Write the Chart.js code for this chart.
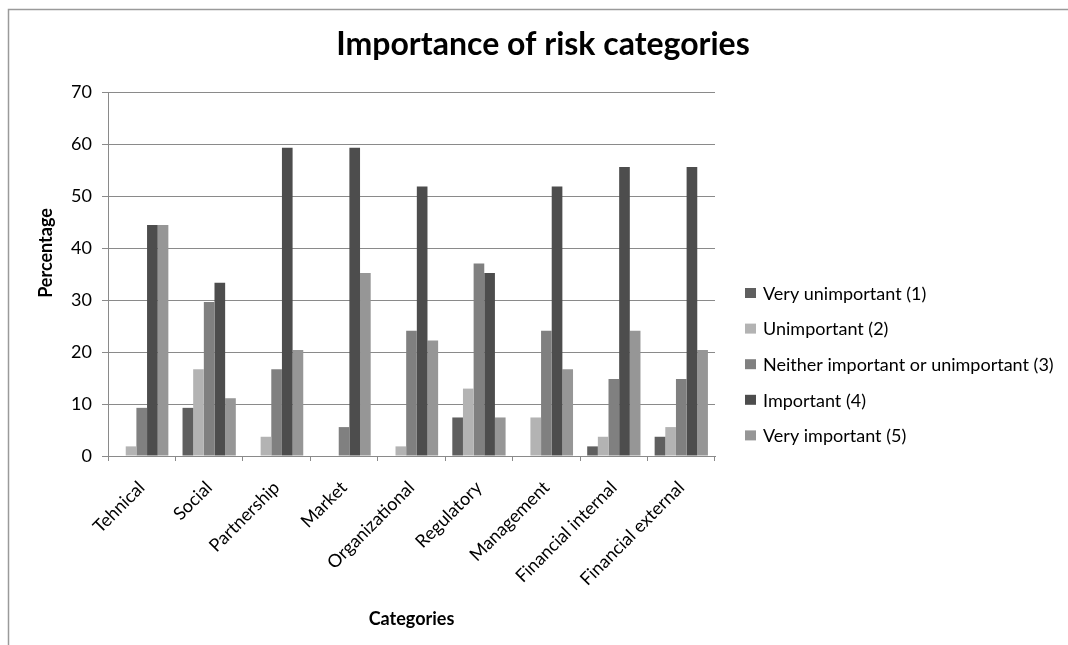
<!DOCTYPE html>
<html>
<head>
<meta charset="utf-8">
<script src="https://cdn.jsdelivr.net/npm/chart.js@4.4.1/dist/chart.umd.min.js"></script>
<style>
  html, body { margin: 0; padding: 0; background: #ffffff; }
  #wrap { width: 1068px; height: 645px; position: relative; }
</style>
</head>
<body>
<div id="wrap"><canvas id="chart" width="1068" height="645"></canvas></div>
<script>
// Survey answers, share of respondents (%) per risk category
const categories = ['Tehnical', 'Social', 'Partnership', 'Market', 'Organizational',
                    'Regulatory', 'Management', 'Financial internal', 'Financial external'];
const veryUnimportant = [0, 9.26, 0, 0, 0, 7.41, 0, 1.85, 3.70];
const unimportant     = [1.85, 16.67, 3.70, 0, 1.85, 12.96, 7.41, 3.70, 5.56];
const neither         = [9.26, 29.63, 16.67, 5.56, 24.07, 37.04, 24.07, 14.81, 14.81];
const important       = [44.44, 33.33, 59.26, 59.26, 51.85, 35.19, 51.85, 55.56, 55.56];
const veryImportant   = [44.44, 11.11, 20.37, 35.19, 22.22, 7.41, 16.67, 24.07, 20.37];

const seriesNames = ['Very unimportant (1)', 'Unimportant (2)',
                     'Neither important or unimportant (3)', 'Important (4)', 'Very important (5)'];
const seriesValues = [veryUnimportant, unimportant, neither, important, veryImportant];
const seriesColors = ['#5f5f5f', '#b3b3b3', '#808080', '#4d4d4d', '#969696'];

const yTicks = [0, 10, 20, 30, 40, 50, 60, 70];

const chartTitle = 'Importance of risk categories';
const xTitle = 'Categories';
const yTitle = 'Percentage';

const FONT = 'Lato';
const AXIS_GRAY = '#8a8a8a';

// White page with the chart frame (top and left edges visible)
const framePlugin = {
  id: 'frame',
  beforeDraw(chart) {
    const ctx = chart.ctx;
    ctx.save();
    ctx.fillStyle = '#ffffff';
    ctx.fillRect(0, 0, chart.width, chart.height);
    ctx.strokeStyle = '#9a9a9a';
    ctx.lineWidth = 1.5;
    ctx.beginPath();
    ctx.moveTo(8.5, chart.height + 5);
    ctx.lineTo(8.5, 9.5);
    ctx.lineTo(chart.width + 5, 9.5);
    ctx.stroke();
    ctx.restore();
  }
};

// Chart title centred on the whole frame, vertical axis title beside the plot
const titles = {
  id: 'titles',
  afterDraw(chart) {
    const ctx = chart.ctx;
    ctx.save();
    ctx.fillStyle = '#000000';
    ctx.textAlign = 'center';
    ctx.textBaseline = 'alphabetic';
    ctx.font = 'bold 32px ' + FONT;
    ctx.fillText(chartTitle, 543, 55);

    ctx.translate(46, 253);
    ctx.rotate(-Math.PI / 2);
    ctx.textBaseline = 'middle';
    ctx.font = 'bold 18px ' + FONT;
    ctx.fillText(yTitle, 0, 0);
    ctx.restore();
  }
};

// Legend listed to the right of the plot
const sideLegend = {
  id: 'sideLegend',
  afterDraw(chart) {
    const ctx = chart.ctx;
    ctx.save();
    ctx.font = '18px ' + FONT;
    ctx.textBaseline = 'middle';
    ctx.textAlign = 'left';
    chart.data.datasets.forEach((ds, i) => {
      const y = 293 + i * 35.6;
      ctx.fillStyle = ds.backgroundColor;
      ctx.fillRect(745, y - 5, 11, 10);
      ctx.fillStyle = '#000000';
      ctx.fillText(ds.label, 763, y + 1);
    });
    ctx.restore();
  }
};

function build() {
  const datasets = seriesNames.map((name, i) => ({
    label: name,
    data: seriesValues[i],
    backgroundColor: seriesColors[i],
    borderWidth: 0,
    barPercentage: 1.0,
    categoryPercentage: 0.79
  }));

  new Chart(document.getElementById('chart'), {
    type: 'bar',
    data: { labels: categories, datasets },
    plugins: [framePlugin, titles, sideLegend],
    options: {
      responsive: false,
      animation: false,
      devicePixelRatio: 1,
      layout: { padding: { left: 0, right: 353, top: 92, bottom: 0 } },
      plugins: {
        legend: { display: false },
        tooltip: { enabled: false },
        title: { display: false }
      },
      scales: {
        x: {
          offset: true,
          grid: { display: true, drawOnChartArea: false, drawTicks: true, tickLength: 5, color: AXIS_GRAY, offset: true },
          border: { display: true, color: AXIS_GRAY, width: 1 },
          ticks: {
            autoSkip: false, minRotation: 45, maxRotation: 45, padding: 16,
            color: '#000000', font: { family: FONT, size: 18 }
          },
          title: {
            display: true, text: xTitle, color: '#000000',
            font: { family: FONT, size: 18, weight: 'bold' },
            padding: { top: 0, bottom: 15 }
          },
          afterFit(scale) { scale.height = 189; }
        },
        y: {
          min: 0, max: 70,
          grid: { color: AXIS_GRAY, tickLength: 6, lineWidth: 1 },
          border: { display: true, color: AXIS_GRAY, width: 1 },
          ticks: { padding: 10, color: '#000000', font: { family: FONT, size: 18 } },
          afterBuildTicks(scale) { scale.ticks = yTicks.map(v => ({ value: v })); },
          title: { display: false },
          afterFit(scale) { scale.width = 108; }
        }
      }
    }
  });
}

Promise.all([
  document.fonts.load('18px ' + FONT),
  document.fonts.load('bold 18px ' + FONT)
]).then(build, build);
</script>
</body>
</html>
